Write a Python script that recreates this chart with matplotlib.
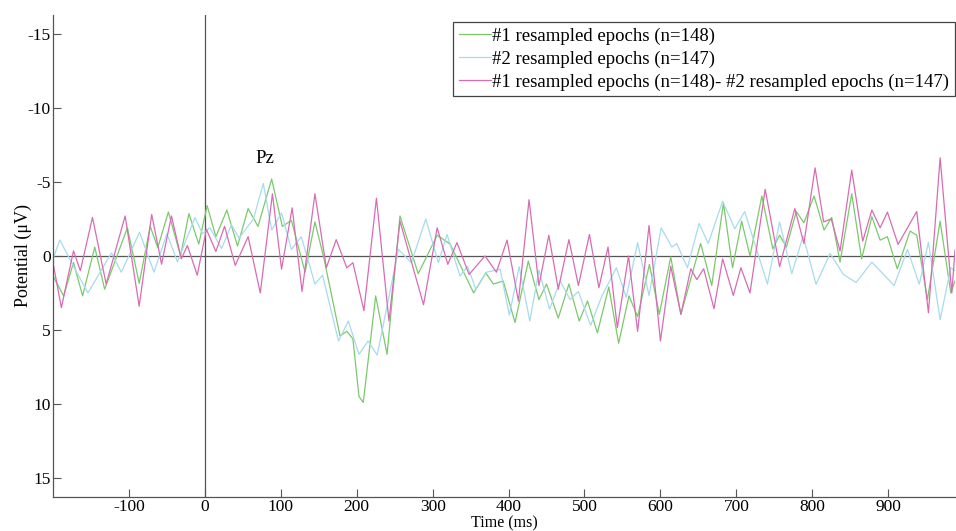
import matplotlib
matplotlib.use("Agg")
import matplotlib.pyplot as plt

plt.rcParams['font.family'] = ['Liberation Serif', 'DejaVu Serif']
plt.rcParams['axes.unicode_minus'] = False

# ---- data (time in ms, potential in µV) ----
g_t = [-200, -186, -173, -161, -145, -132, -102, -86.5, -72, -62, -48, -32, -21, -8, 3, 14.5, 29, 43, 57, 70,
       88, 102, 114, 132, 145, 157, 178, 187, 195, 203, 208.6, 225, 240, 257, 281, 306, 323, 354, 370, 380,
       393, 408.5, 426, 440, 450, 465.5, 479.5, 493, 504, 517, 532, 545, 558.6, 570, 585.5, 598.6, 613.6, 627,
       653, 667.6, 683, 695, 707, 718, 733.6, 748, 757, 766, 779, 789, 802.4, 815.5, 825.6, 836.6, 852, 865,
       878.5, 889.4, 899, 912, 928.8, 937.6, 951.7, 968.4, 982.5, 988]
g_v = [1.35, 2.7, 0.45, 2.7, -0.6, 2.25, -1.9, 1.85, -2.0, -0.56, -2.97, 0.0, -2.86, -0.8, -3.4, -1.3, -3.1, -0.67, -3.2, -2.0,
       -5.2, -2.0, -2.4, 1.1, -2.3, 0.2, 5.4, 5.1, 5.6, 9.5, 9.9, 2.7, 6.65, -2.7, 1.2, -1.4, -0.8, 2.5, 1.15, 1.9,
       1.7, 4.5, 0.35, 2.95, 1.9, 4.2, 1.9, 4.4, 3.05, 5.2, 2.1, 5.9, 2.7, 4.1, 0.57, 3.95, 0.06, 3.95,
       -0.84, 2.0, -3.57, 0.8, -2.35, 0.0, -4.05, -0.48, -1.4, -0.6, -3.0, -2.24, -4.05, -1.75, -2.6, 0.42, -4.2, 0.2,
       -2.65, -1.07, -1.3, 0.87, -1.68, -1.4, 2.94, -2.35, 2.5, 1.7]

b_t = [-200, -191, -172, -154, -123, -110, -86, -67, -50, -36, -13, -3, 6.6, 22, 35, 45, 64, 77, 88, 101,
       114, 127, 145, 155, 176, 189, 203, 215, 227, 255, 272, 291, 307.5, 319, 336, 346, 357, 371, 389, 401,
       414, 428, 440, 454, 468, 481, 492, 508, 523, 542, 555, 570, 585, 601, 615, 621.5, 635.6, 651, 663, 682,
       698, 711, 741, 757, 773, 788, 805, 823.5, 841, 857.7, 878.5, 907.8, 925.4, 941, 953, 968.4, 982.5, 988]
b_v = [0.2, -1.08, 0.8, 2.5, -0.2, 1.1, -1.6, 1.1, -1.5, 0.4, -2.6, -1.5, -1.9, -0.5, -2.1, -1.2, -2.5, -4.9, -1.75, -2.9,
       -0.44, -1.3, 1.9, 1.3, 5.75, 4.4, 6.65, 5.75, 6.7, -0.44, 0.46, -2.5, 0.46, -1.45, 1.36, 0.7, 2.26, 1.1, 0.9, 4.0,
       0.73, 4.4, 0.96, 3.6, 1.7, 2.95, 2.4, 4.7, 2.7, 0.8, 2.8, -0.9, 2.67, -1.9, -0.6, -0.84, 0.8, -2.2, -0.84, -3.7,
       -1.83, -3.0, 1.9, -2.3, 1.2, -1.35, 1.92, -0.17, 1.25, 1.8, 0.42, 2.0, -0.44, 1.92, -0.93, 4.3, 0.8, 1.0]

p_t = [-200, -189, -173, -164, -148, -130, -105, -86.5, -70, -57, -44, -31, -23, -10, 2, 14.5, 26, 40, 57, 73,
       89, 101, 115, 128, 145, 160, 173, 187, 195, 209.5, 226, 242.5, 257, 288, 306, 320, 332, 348, 369, 384,
       398, 413, 427, 440, 453, 465.5, 479.5, 492, 506.5, 519, 531, 543.3, 558, 570, 585, 600, 613.6, 627, 640, 648,
       657, 670.6, 682, 696, 706, 718, 738, 757, 777, 789, 803.7, 815, 825, 836.6, 852, 866.5, 878.5, 889.4, 899, 913,
       937.6, 953, 968.4, 983.8, 988]
p_v = [0.45, 3.5, -0.34, 1.0, -2.6, 1.9, -2.7, 3.4, -2.8, 0.56, -2.7, 0.2, -0.7, 1.3, -1.8, -0.3, -2.0, 0.64, -1.3, 2.5,
       -4.2, 0.9, -3.25, 2.4, -4.2, 0.8, -1.1, 0.8, 0.46, 3.7, -3.9, 4.4, -2.35, 3.3, -1.9, 0.57, -0.9, 1.25, 0.0, 1.1,
       -1.07, 3.05, -3.8, 2.0, -1.4, 2.25, -1.1, 2.0, -1.45, 2.15, -0.6, 4.85, 0.0, 5.1, -2.06, 5.75, 0.7, 3.95, 0.87, 1.6,
       0.87, 3.57, 0.2, 2.67, 0.8, 2.5, -4.5, 0.73, -3.2, -0.84, -5.95, -2.3, -2.5, -0.33, -5.8, -1.0, -3.1, -1.9, -2.96, -0.78,
       -3.0, 3.84, -6.63, 2.5, -0.4]

labels = ["#1 resampled epochs (n=148)",
          "#2 resampled epochs (n=147)",
          "#1 resampled epochs (n=148)- #2 resampled epochs (n=147)"]
colors = ["#7cc96c", "#a6dcec", "#d86cb4"]
xticks = list(range(-100, 1000, 100))
yticks = [-15, -10, -5, 0, 5, 10, 15]

fig = plt.figure(figsize=(9.56, 5.31), dpi=100)
ax = fig.add_axes([53/956, 1-496.7/531, (955-53)/956, (496.7-15)/531])

ax.axhline(0, color="#555555", lw=0.9, zorder=1)
ax.axvline(0, color="#555555", lw=0.9, zorder=1)

for t, v, c, lab in zip([g_t, b_t, p_t], [g_v, b_v, p_v], colors, labels):
    ax.plot(t, v, color=c, lw=0.9, label=lab, zorder=2, solid_joinstyle="round")

ax.set_xlim(-200, 988)
ax.set_ylim(16.27, -16.28)
ax.set_xticks(xticks)
ax.set_yticks(yticks)
ax.tick_params(direction="in", length=6, width=0.8, labelsize=12.5, color="#555555", pad=1.5)
for s in ["top", "right"]:
    ax.spines[s].set_visible(False)
for s in ["left", "bottom"]:
    ax.spines[s].set_color("#555555")
    ax.spines[s].set_linewidth(0.9)

ax.set_xlabel("Time (ms)", fontsize=11.5, va="bottom")
ax.xaxis.set_label_coords((53 + 955) / 2 / 956, 0.0, transform=fig.transFigure)
ax.set_ylabel("Potential (μV)", fontsize=13, labelpad=-3)

ax.text(79, -6.6, "Pz", fontsize=13.5, ha="center", va="center")

leg = ax.legend(loc="upper right", bbox_to_anchor=(955/956, 1-22/531), bbox_transform=fig.transFigure,
                fontsize=13.5, frameon=True, fancybox=False, framealpha=1, edgecolor="#444444",
                handlelength=1.75, handletextpad=0.05, labelspacing=0.3, borderpad=0.3, borderaxespad=0)
leg.get_frame().set_linewidth(0.9)

fig.savefig("out.png", dpi=100)
